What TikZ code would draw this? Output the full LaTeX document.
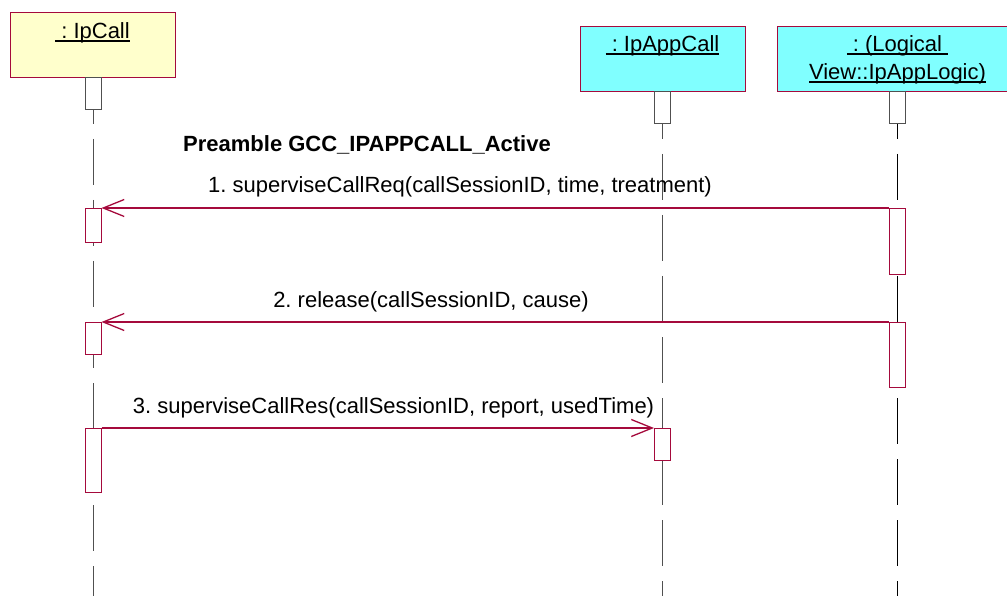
\documentclass[tikz,border=0pt]{standalone}
\usepackage{fontspec}
\setmainfont{Liberation Sans}
\usetikzlibrary{arrows.meta}
\definecolor{crim}{RGB}{165,10,60}
\definecolor{objy}{RGB}{255,255,204}
\definecolor{objc}{RGB}{128,255,255}
\definecolor{lgray}{RGB}{80,80,80}
\newcommand\ulx[1]{\setbox0\hbox{#1}\rlap{\rule[-2.6pt]{\wd0}{1.2pt}}\box0}
\frenchspacing
\begin{document}
\begin{tikzpicture}[x=1pt,y=-1pt, font=\fontsize{22}{27}\selectfont,
 objbox/.style={draw=crim, line width=1pt, inner sep=0pt},
 lifeline/.style={line width=1pt, dash pattern=on 46pt off 15pt},
 actbox/.style={draw=crim, fill=white, line width=1pt, inner sep=0pt, minimum width=16pt},
 headbox/.style={draw=lgray, fill=white, line width=1pt, inner sep=0pt, minimum width=16pt, minimum height=32pt},
 msg/.style={draw=crim, line width=1.1pt, -{Straight Barb[length=21pt,width=17pt,line width=1.3pt]}},
 lbl/.style={inner sep=0pt, anchor=base}]
\useasboundingbox (0,0) rectangle (1007,596);
% lifelines
\coordinate (l1s) at (93,78);   \coordinate (l1e) at (93,596);
\coordinate (l2s) at (662.5,93); \coordinate (l2e) at (662.5,596);
\coordinate (l3s) at (897.5,93); \coordinate (l3e) at (897.5,596);
\draw[lifeline, lgray] (l1s) -- (l1e);
\draw[lifeline, lgray] (l2s) -- (l2e);
\draw[lifeline, black] (l3s) -- (l3e);
% object boxes
\node[objbox, fill=objy, minimum width=165pt, minimum height=65pt, anchor=north west] (ipcall) at (10,12) {};
\node[objbox, fill=objc, minimum width=165pt, minimum height=65pt, anchor=north west] (ipapp) at (580,26) {};
\node[objbox, fill=objc, minimum width=232pt, minimum height=65pt, anchor=north west] (logic) at (777,26) {};
\node[lbl] (t1) at (92.5,39) {\ulx{\ : IpCall}};
\node[lbl] (t2) at (662.5,52) {\ulx{\ : IpAppCall}};
\node[lbl] (t3a) at (897.5,52) {\ulx{\ : (Logical\ }};
\node[lbl] (t3b) at (897.5,80) {\ulx{View::IpAppLogic)}};
% head activations
\node[headbox, anchor=north] (h1) at (93,77) {};
\node[headbox, anchor=north] (h2) at (662.5,91) {};
\node[headbox, anchor=north] (h3) at (897.5,91) {};
% activations
\node[actbox, anchor=north, minimum height=34pt] (c1) at (93,208) {};
\node[actbox, anchor=north, minimum height=32pt] (c2) at (93,322) {};
\node[actbox, anchor=north, minimum height=64pt] (c3) at (93,428) {};
\node[actbox, anchor=north, minimum height=66pt] (g1) at (897.5,208) {};
\node[actbox, anchor=north, minimum height=65pt] (g2) at (897.5,322) {};
\node[actbox, anchor=north, minimum height=32pt] (a3) at (662.5,428) {};
% messages
\draw[msg] (g1.north west) -- (c1.north east);
\draw[msg] (g2.north west) -- (c2.north east);
\draw[msg] (c3.north east) -- (a3.north west);
% labels
\node[lbl, font=\fontsize{22}{27}\selectfont\bfseries] (pre) at (367,152) {Preamble GCC\_IPAPPCALL\_Active};
\node[lbl] (m1) at (460,193) {1. superviseCallReq(callSessionID, time, treatment)};
\node[lbl] (m2) at (431,307) {2. release(callSessionID, cause)};
\node[lbl] (m3) at (393.5,413) {3. superviseCallRes(callSessionID, report, usedTime)};
\end{tikzpicture}
\end{document}
